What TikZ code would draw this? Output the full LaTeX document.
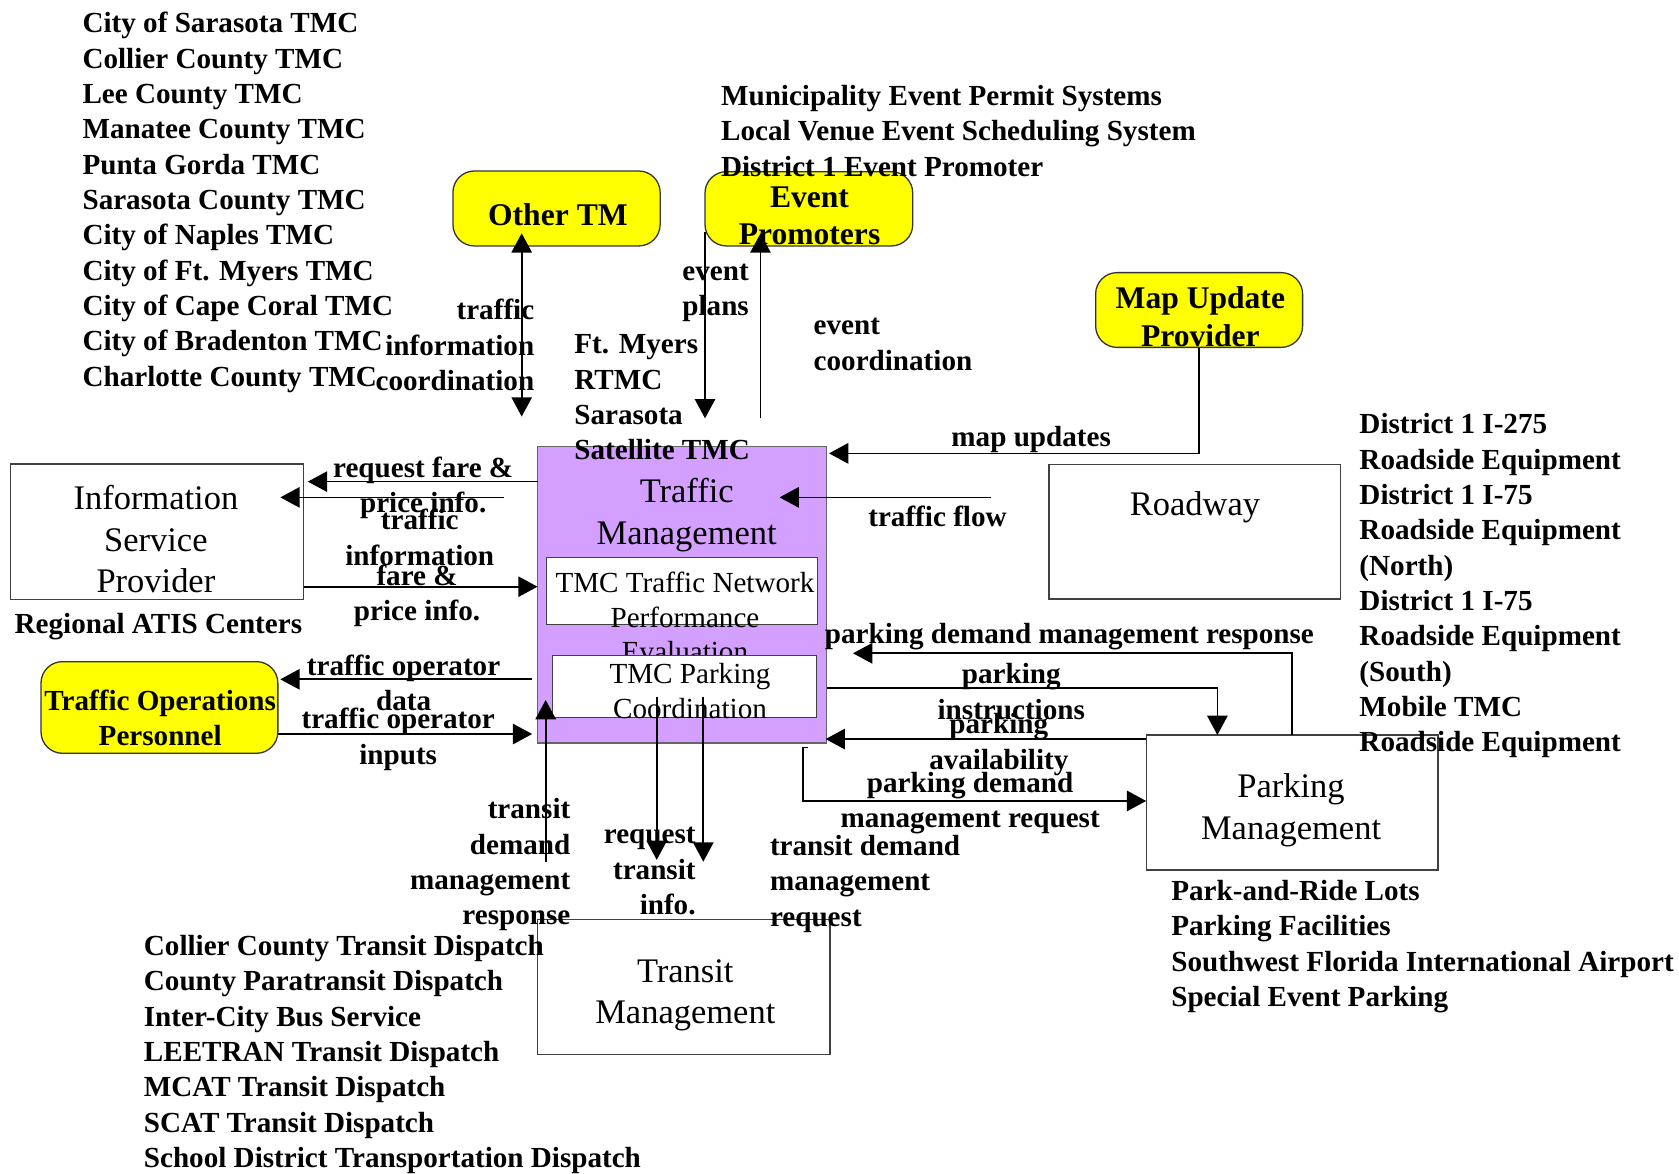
\documentclass[tikz,border=0pt]{standalone}
\usepackage{fontspec}
\setmainfont{Liberation Serif}
\usetikzlibrary{arrows.meta,fit}
\definecolor{tmpurple}{RGB}{212,160,255}
\definecolor{ylw}{RGB}{255,255,0}
\begin{document}
\begin{tikzpicture}[x=0.5pt,y=-0.5pt,
  box/.style={draw=black!75,line width=0.6pt,inner sep=0pt,fill=white},
  ybox/.style={draw=black!80,line width=0.6pt,inner sep=0pt,fill=ylw,rounded corners=10pt},
  pbox/.style={draw=black!60,line width=0.6pt,inner sep=0pt,fill=tmpurple},
  lbl/.style={font=\fontsize{13.6}{16.5}\selectfont\bfseries,inner sep=0pt},
  ylbl/.style={font=\fontsize{14.75}{17.5}\selectfont\bfseries,inner sep=0pt,align=center},
  big/.style={font=\fontsize{16.1}{19.5}\selectfont,inner sep=0pt,align=center},
  small/.style={font=\fontsize{13.6}{16}\selectfont,inner sep=0pt,align=center},
  conn/.style={line width=0.8pt,-{Triangle[length=9pt,width=9.5pt]}},
  dconn/.style={line width=0.8pt,{Triangle[length=9pt,width=9.5pt]}-{Triangle[length=9pt,width=9.5pt]}},
]
\useasboundingbox[fill=white] (0,0) rectangle (1568,1096);

% ---------- boxes ----------
\node[ybox,fit={(423,159.7) (616.5,229.7)}] (othertm) {};
\node[ybox,fit={(658.4,160.3) (852.4,229.7)}] (event) {};
\node[ybox,fit={(1023.2,254.6) (1216.5,324.4)}] (map) {};
\node[ybox,fit={(38.3,617.9) (259.5,703.5)}] (top) {};
\node[box,fit={(10,433.3) (283.5,559.7)}] (isp) {};
\node[pbox,fit={(502,417) (772,694)}] (tm) {};
\node[box,fit={(979.6,433.6) (1252,559.4)}] (road) {};
\node[box,fit={(1070.4,686.4) (1342.8,812.5)}] (park) {};
\node[box,fit={(502,858.6) (775,984.6)}] (transit) {};

% ---------- box texts ----------
\node[ylbl,anchor=base] (othertmT) at (521,211) {Other TM};
\node[ylbl,anchor=north] (eventT) at (756,168.5) {\strut Event\\Promoters};
\node[ylbl,anchor=north] (mapT) at (1121,263.5) {\strut Map Update\\Provider};
\node[lbl,align=center,anchor=north] (topT) at (149.6,639.9) {\strut Traffic Operations\\Personnel};
\node[big,anchor=north] (ispT) at (145.6,448) {\strut Information\\Service\\Provider};
\node[big,anchor=north] (tmT) at (641.3,442) {\strut Traffic\\Management};
\node[box,fit={(510.5,520.8) (763.6,583)}] (tmcnet) {};
\node[small,anchor=north] (tmcnetT) at (639.7,530.8) {\strut TMC Traffic Network\\Performance\\Evaluation};
\node[box,fit={(515.8,612.3) (762.7,670)}] (tmcpark) {};
\node[small,anchor=north] (tmcparkT) at (644.4,615.8) {\strut TMC Parking\\Coordination};
\node[big,anchor=base] (roadT) at (1116,481) {Roadway};
\node[big,anchor=north] (parkT) at (1205.7,717.3) {\strut Parking\\Management};
\node[big,anchor=north] (transitT) at (640,889.5) {\strut Transit\\Management};

% ---------- free texts ----------
\node[lbl,align=left,anchor=north west] (tllist) at (76.7,7.1) {\strut City of Sarasota TMC\\Collier County TMC\\Lee County TMC\\Manatee County TMC\\Punta Gorda TMC\\Sarasota County TMC\\City of Naples TMC\\City of Ft. Myers TMC\\City of Cape Coral TMC\\City of Bradenton TMC\\Charlotte County TMC};
\node[lbl,align=left,anchor=north west] (evlist) at (673,74.9) {\strut Municipality Event Permit Systems\\Local Venue Event Scheduling System\\District 1 Event Promoter};
\node[lbl,align=left,anchor=north west] (tmlist) at (536,306.9) {\strut Ft. Myers\\RTMC\\Sarasota\\Satellite TMC};
\node[lbl,align=left,anchor=north west] (rdlist) at (1269.2,381.6) {\strut District 1 I-275\\Roadside Equipment\\District 1 I-75\\Roadside Equipment\\(North)\\District 1 I-75\\Roadside Equipment\\(South)\\Mobile TMC\\Roadside Equipment};
\node[lbl,anchor=base west] (isplist) at (13.3,591.5) {Regional ATIS Centers};
\node[lbl,align=left,anchor=north west] (pklist) at (1093.5,817.4) {\strut Park-and-Ride Lots\\Parking Facilities\\Southwest Florida International Airport\\Special Event Parking};
\node[lbl,align=left,anchor=north west] (trlist) at (134,868.8) {\strut Collier County Transit Dispatch\\County Paratransit Dispatch\\Inter-City Bus Service\\LEETRAN Transit Dispatch\\MCAT Transit Dispatch\\SCAT Transit Dispatch\\School District Transportation Dispatch};

% ---------- connector labels ----------
\node[lbl,align=right,anchor=north east] (l1) at (499.3,275.1) {\strut traffic\\information\\coordination};
\node[lbl,align=left,anchor=north west] (l2) at (636.9,238.4) {\strut event\\plans};
\node[lbl,align=left,anchor=north west] (l3) at (759.5,289.1) {\strut event\\coordination};
\node[lbl,anchor=base] (l4) at (963,417) {map updates};
\node[lbl,anchor=base] (l5) at (875.5,491.8) {traffic flow};
\node[lbl,align=center,anchor=north] (l6) at (395.2,422.1) {\strut request fare \&\\price info.};
\node[lbl,align=center,anchor=north] (l7) at (392,471.2) {\strut traffic\\information};
\node[lbl,align=center,anchor=north] (l8) at (389.5,523.2) {\strut fare \&\\price info.};
\node[lbl,align=center,anchor=north] (l9) at (376.9,607.3) {\strut traffic operator\\data};
\node[lbl,align=center,anchor=north] (l10) at (371.9,657.1) {\strut traffic operator\\inputs};
\node[lbl,anchor=base west] (l11) at (770,600.8) {parking demand management response};
\node[lbl,align=center,anchor=north] (l12) at (944.4,615.1) {\strut parking\\instructions};
\node[lbl,align=center,anchor=north] (l13) at (932.8,661.7) {\strut parking\\availability};
\node[lbl,align=center,anchor=north] (l14) at (906,716.2) {\strut parking demand\\management request};
\node[lbl,align=right,anchor=north east] (l15) at (533,741.1) {\strut transit\\demand\\management\\response};
\node[lbl,align=right,anchor=north east] (l16) at (650,764.5) {\strut request\\transit\\info.};
\node[lbl,align=left,anchor=north west] (l17) at (718.7,775.4) {\strut transit demand\\management\\request};

% ---------- connector end points ----------
\coordinate (ot1) at (487.2,217.9);
\coordinate (ot2) at (487.2,389);
\coordinate (ep1) at (658.4,216.3);
\coordinate (ep2) at (658.4,390.7);
\coordinate (ec1) at (710.2,390.7);
\coordinate (ec2) at (710.2,218);
\coordinate (mu) at (774.2,423.4);
\coordinate (tf1) at (925.2,464.5);
\coordinate (tf2) at (728,464.5);
\coordinate (rf1) at (502,449.8);
\coordinate (rf2) at (287.5,449.8);
\coordinate (ti1) at (470.3,464.5);
\coordinate (ti2) at (261.8,464.5);
\coordinate (fp1) at (283.5,547.9);
\coordinate (fp2) at (502,547.9);
\coordinate (od1) at (497,634.4);
\coordinate (od2) at (261.8,634.4);
\coordinate (oi1) at (259.5,685.5);
\coordinate (oi2) at (497,685.5);
\coordinate (pr1) at (1206.6,686.4);
\coordinate (pr2) at (796.6,610.1);
\coordinate (pi1) at (772,642.2);
\coordinate (pi2) at (1136.9,686.4);
\coordinate (pa1) at (1070.4,690.2);
\coordinate (pa2) at (771,690.2);
\coordinate (pq0) at (755,698.2);
\coordinate (pq1) at (750,698.2);
\coordinate (pq2) at (1070.4,748);
\coordinate (tr1) at (509.6,804.7);
\coordinate (tr2) at (509.6,653.7);
\coordinate (ri1) at (613.3,650.6);
\coordinate (ri2) at (613.3,803);
\coordinate (td1) at (656.8,650.6);
\coordinate (td2) at (656.8,804.7);

% ---------- connectors ----------
\draw[dconn] (ot1) -- (ot2);
\draw[conn] (ep1) -- (ep2);
\draw[conn] (ec1) -- (ec2);
\draw[conn] (map.south) |- (mu);
\draw[conn] (tf1) -- (tf2);
\draw[conn] (rf1) -- (rf2);
\draw[conn] (ti1) -- (ti2);
\draw[conn] (fp1) -- (fp2);
\draw[conn] (od1) -- (od2);
\draw[conn] (oi1) -- (oi2);
\draw[conn] (pr1) |- (pr2);
\draw[conn] (pi1) -| (pi2);
\draw[conn] (pa1) -- (pa2);
\draw[conn] (pq0) -- (pq1) |- (pq2);
\draw[conn] (tr1) -- (tr2);
\draw[conn] (ri1) -- (ri2);
\draw[conn] (td1) -- (td2);
\end{tikzpicture}
\end{document}
